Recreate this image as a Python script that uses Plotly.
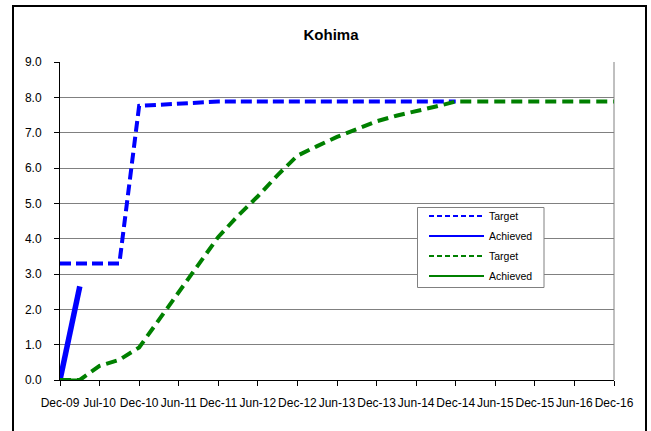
import plotly.graph_objects as go

tick_labels = ["Dec-09", "Jul-10", "Dec-10", "Jun-11", "Dec-11", "Jun-12", "Dec-12",
               "Jun-13", "Dec-13", "Jun-14", "Dec-14", "Jun-15", "Dec-15", "Jun-16", "Dec-16"]
tick_pos = [0, 1, 2, 3, 4, 5, 6, 7, 8, 9, 10, 11, 12, 13, 14]

period = [0, 0.5, 1, 1.5, 2, 2.5, 3, 3.5, 4, 4.5, 5, 5.5, 6, 6.5, 7, 7.5, 8, 8.5, 9, 9.5,
          10, 10.5, 11, 11.5, 12, 12.5, 13, 13.5, 14]

blue_target = [3.3, 3.3, 3.3, 3.3, 7.76, 7.79, 7.82, 7.85, 7.88, 7.88, 7.88, 7.88, 7.88,
               7.88, 7.88, 7.88, 7.88, 7.88, 7.88, 7.88, 7.88]
blue_achieved = [0.0, 2.65]
green_target = [0.0, 0.0, 0.4, 0.57, 0.92, 1.7, 2.5, 3.3, 4.05, 4.65, 5.2, 5.8, 6.35, 6.62,
                6.88, 7.1, 7.32, 7.48, 7.6, 7.74, 7.88, 7.88, 7.88, 7.88, 7.88, 7.88, 7.88,
                7.88, 7.88]
green_achieved = [0.0, 0.0]

BLUE = "#0000FF"
GREEN = "#008000"
FONT = "Liberation Sans, Arial, sans-serif"

L, R, T, B = 60, 37, 62, 51
PW, PH = 651 - L - R, 431 - T - B


def px_x(x):
    return (x - L) / PW


def px_y(y):
    return (431 - B - y) / PH


fig = go.Figure()

fig.add_trace(go.Scatter(x=period[:len(blue_target)], y=blue_target, mode="lines",
                         line=dict(color=BLUE, width=4, dash="11px,5px"), showlegend=False))
fig.add_trace(go.Scatter(x=period[:len(blue_achieved)], y=blue_achieved, mode="lines",
                         line=dict(color=BLUE, width=5.5), showlegend=False))
fig.add_trace(go.Scatter(x=period[:len(green_target)], y=green_target, mode="lines",
                         line=dict(color=GREEN, width=4, dash="11px,6px"), showlegend=False))
fig.add_trace(go.Scatter(x=period[:len(green_achieved)], y=green_achieved, mode="lines",
                         line=dict(color=GREEN, width=3), showlegend=False))

# legend entries
for i, (name, color, dash) in enumerate([("Target", BLUE, "5px,3px"), ("Achieved", BLUE, "solid"),
                                         ("Target", GREEN, "5px,3px"), ("Achieved", GREEN, "solid")]):
    fig.add_trace(go.Scatter(x=[None], y=[None], mode="lines", name=name, legendgroup="g%d" % i,
                             line=dict(color=color, width=2, dash=dash), showlegend=True))

fig.update_layout(
    width=651, height=431,
    margin=dict(l=L, r=R, t=T, b=B),
    paper_bgcolor="white", plot_bgcolor="white",
    font=dict(family=FONT, size=12, color="black"),
    title=dict(text="<b>Kohima</b>", x=331 / 651, xanchor="center", y=1 - 34.5 / 431,
               yanchor="middle", font=dict(family=FONT, size=15, color="black")),
    legend=dict(x=px_x(424), y=px_y(201.5), xanchor="left", yanchor="top",
                bgcolor="rgba(0,0,0,0)", borderwidth=0,
                font=dict(family=FONT, size=10.5, color="black"),
                itemwidth=55, tracegroupgap=1),
    showlegend=True,
)

fig.update_xaxes(range=[0, 14], tickmode="array", tickvals=tick_pos, ticktext=tick_labels,
                 ticks="outside", ticklen=5, tickcolor="black", showline=True,
                 linecolor="black", linewidth=1, showgrid=False, zeroline=False,
                 tickangle=0, ticklabelstandoff=7, tickfont=dict(size=12))
fig.update_yaxes(range=[0, 9], dtick=1, tick0=0, tickformat=".1f", showgrid=True,
                 gridcolor="#808080", gridwidth=1, ticks="outside", ticklen=5,
                 tickcolor="black", showline=True, linecolor="black", linewidth=1,
                 zeroline=False, ticklabelstandoff=10, tickfont=dict(size=12))

# plot-area right border
fig.add_shape(type="line", xref="paper", yref="paper", x0=1, x1=1, y0=0, y1=1,
              line=dict(color="#808080", width=1), layer="below")
# legend box
fig.add_shape(type="rect", xref="paper", yref="paper",
              x0=px_x(417.5), x1=px_x(544), y0=px_y(287.5), y1=px_y(207.5),
              line=dict(color="#808080", width=1), fillcolor="white", layer="above")
# outer chart border
fig.add_shape(type="rect", xref="paper", yref="paper",
              x0=px_x(13), x1=px_x(646), y0=px_y(440), y1=px_y(6),
              line=dict(color="black", width=2), fillcolor="rgba(0,0,0,0)")

fig.write_html("out.html", config={"displayModeBar": False},
               post_script="document.body.style.margin='0px';")
